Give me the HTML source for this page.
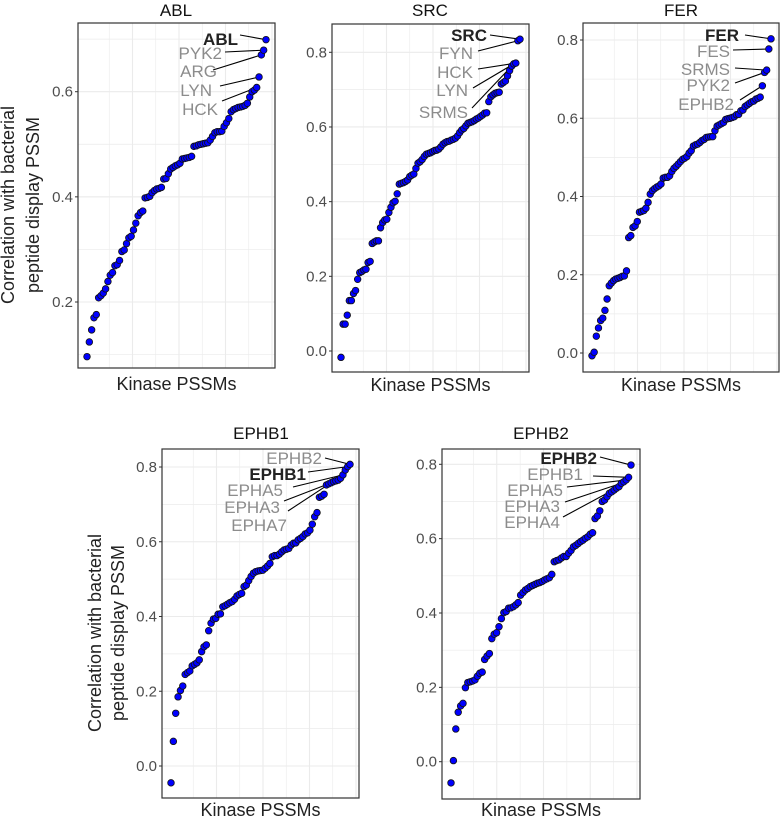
<!DOCTYPE html>
<html><head><meta charset="utf-8"><style>
html,body{margin:0;padding:0;background:#fff;}
svg{display:block;font-family:"Liberation Sans",sans-serif;}
</style></head><body>
<svg id="fig" width="781" height="822" viewBox="0 0 781 822"></svg>
<script>
const ablValues=[0.096,0.124,0.147,0.170,0.176,0.208,0.212,0.217,0.225,0.239,0.251,0.256,0.269,0.271,0.279,0.296,0.299,0.311,0.322,0.325,0.337,0.350,0.364,0.370,0.373,0.398,0.399,0.401,0.408,0.412,0.415,0.416,0.418,0.434,0.435,0.444,0.453,0.456,0.459,0.461,0.464,0.472,0.473,0.474,0.475,0.477,0.496,0.497,0.499,0.500,0.501,0.502,0.503,0.508,0.515,0.522,0.524,0.524,0.525,0.534,0.541,0.549,0.562,0.566,0.568,0.570,0.571,0.572,0.574,0.578,0.590,0.600,0.603,0.608,0.628,0.670,0.679,0.699];
const srcValues=[-0.017,0.072,0.072,0.096,0.135,0.135,0.154,0.162,0.192,0.210,0.213,0.217,0.219,0.237,0.240,0.288,0.292,0.295,0.295,0.330,0.344,0.351,0.353,0.371,0.385,0.397,0.401,0.421,0.447,0.449,0.451,0.454,0.458,0.467,0.471,0.474,0.489,0.503,0.507,0.513,0.521,0.527,0.529,0.531,0.534,0.537,0.538,0.541,0.547,0.554,0.558,0.561,0.562,0.565,0.567,0.570,0.576,0.585,0.592,0.596,0.603,0.610,0.612,0.614,0.617,0.621,0.624,0.628,0.632,0.637,0.638,0.668,0.681,0.686,0.690,0.692,0.693,0.715,0.719,0.723,0.737,0.751,0.763,0.769,0.771,0.831,0.835];
const ferValues=[-0.007,0.002,0.043,0.064,0.083,0.089,0.109,0.138,0.172,0.179,0.185,0.189,0.191,0.193,0.196,0.197,0.210,0.295,0.300,0.321,0.325,0.336,0.360,0.362,0.364,0.370,0.385,0.406,0.415,0.420,0.424,0.427,0.432,0.447,0.449,0.449,0.453,0.464,0.472,0.477,0.483,0.489,0.495,0.498,0.502,0.511,0.517,0.529,0.532,0.534,0.538,0.543,0.546,0.551,0.552,0.553,0.553,0.568,0.580,0.583,0.586,0.589,0.597,0.599,0.600,0.602,0.604,0.609,0.610,0.619,0.621,0.630,0.634,0.638,0.642,0.644,0.649,0.651,0.654,0.683,0.717,0.723,0.777,0.803];
const ephb1Values=[-0.045,0.066,0.141,0.185,0.202,0.214,0.245,0.250,0.254,0.268,0.272,0.276,0.284,0.306,0.319,0.324,0.362,0.382,0.393,0.395,0.406,0.407,0.426,0.429,0.433,0.437,0.440,0.446,0.455,0.459,0.462,0.480,0.484,0.496,0.507,0.516,0.520,0.522,0.523,0.524,0.529,0.535,0.542,0.560,0.563,0.563,0.567,0.573,0.578,0.580,0.582,0.591,0.596,0.597,0.605,0.609,0.614,0.621,0.624,0.631,0.647,0.667,0.678,0.719,0.722,0.727,0.752,0.755,0.758,0.761,0.763,0.765,0.770,0.779,0.792,0.801,0.807];
const ephb2Values=[-0.057,0.003,0.088,0.133,0.150,0.157,0.199,0.213,0.215,0.217,0.220,0.230,0.238,0.241,0.275,0.284,0.291,0.331,0.343,0.347,0.363,0.385,0.401,0.404,0.413,0.414,0.417,0.422,0.428,0.448,0.455,0.462,0.466,0.471,0.474,0.477,0.480,0.482,0.485,0.489,0.492,0.495,0.504,0.538,0.541,0.543,0.548,0.552,0.552,0.561,0.568,0.578,0.582,0.587,0.592,0.596,0.601,0.605,0.612,0.616,0.654,0.661,0.675,0.700,0.704,0.713,0.722,0.726,0.731,0.736,0.740,0.749,0.753,0.758,0.765,0.798];
const ablTicks=[0.2,0.4,0.6];
const stdTicks=[0.0,0.2,0.4,0.6,0.8];

const NS="http://www.w3.org/2000/svg";
const svg=document.getElementById('fig');
function mk(tag,attrs,parent){const e=document.createElementNS(NS,tag);for(const k in attrs)e.setAttribute(k,attrs[k]);(parent||svg).appendChild(e);return e;}

const panels=[
 {id:'abl',title:'ABL',values:ablValues,ticks:ablTicks,x0:78,x1:275,y0:23,y1:368,px0:87,px1:266,v0:0.2,yv0:302,v1:0.6,yv1:91.7,tx:176,ty:16,xt:390,
  labels:[['ABL',true,238,39,240,35],['PYK2',false,222,53,225,52],['ARG',false,217,71,213,70],['LYN',false,212,90,220,86],['HCK',false,218,109,222,101]],
  targets:[77,76,75,74,73]},
 {id:'src',title:'SRC',values:srcValues,ticks:stdTicks,x0:332,x1:529,y0:24,y1:372,px0:341,px1:520,v0:0,yv0:351,v1:0.8,yv1:52.3,tx:430,ty:16,xt:391,
  labels:[['SRC',true,487,35,490,35],['FYN',false,473,53,478,51],['HCK',false,473,72,478,69],['LYN',false,468,90,473,88],['SRMS',false,468,112,472,108]],
  targets:[86,85,84,83,82]},
 {id:'fer',title:'FER',values:ferValues,ticks:stdTicks,x0:583,x1:779,y0:23,y1:372,px0:592,px1:771,v0:0,yv0:353,v1:0.8,yv1:40,tx:681,ty:16,xt:391,
  labels:[['FER',true,739,35,745,35],['FES',false,730,51,733,50],['SRMS',false,730,69,735,68],['PYK2',false,730,85,735,83],['EPHB2',false,734,104,740,100]],
  targets:[83,82,81,80,79]},
 {id:'ephb1',title:'EPHB1',values:ephb1Values,ticks:stdTicks,x0:162,x1:359,y0:449,y1:798,px0:171,px1:350,v0:0,yv0:766,v1:0.8,yv1:467,tx:261,ty:439,xt:816,
  labels:[['EPHB2',false,322,458,325,458],['EPHB1',true,306,474,308,472],['EPHA5',false,283,490,293,487],['EPHA3',false,280,507,284,501],['EPHA7',false,287,525,288,511]],
  targets:[76,75,73,71,68]},
 {id:'ephb2',title:'EPHB2',values:ephb2Values,ticks:stdTicks,x0:442,x1:640,y0:449,y1:799,px0:451,px1:631,v0:0,yv0:761.7,v1:0.8,yv1:464.3,tx:541,ty:439,xt:816,
  labels:[['EPHB2',true,597,458,600,457],['EPHB1',false,583,474,593,476],['EPHA5',false,563,490,567,487],['EPHA3',false,560,506,565,502],['EPHA4',false,560,522,563,517]],
  targets:[75,74,73,71,69]}
];

panels.forEach(p=>{
  const g=mk('g',{});
  
  
  const N=p.values.length;
  const xs=i=>p.px0+(p.px1-p.px0)*i/(N-1);
  const ys=v=>p.yv0+(v-p.v0)*(p.yv1-p.yv0)/(p.v1-p.v0);
  mk('rect',{x:p.x0,y:p.y0,width:p.x1-p.x0,height:p.y1-p.y0,fill:'#fff'},g);
  const step=(p.px1-p.px0)/3.85;
  for(let k=0;k<8;k++){const gx=p.px0+step*(k+1)/2-1;if(gx<p.x1){const l=mk('line',{x1:gx,x2:gx,y1:p.y0,y2:p.y1,stroke:'#ebebeb','stroke-width':k%2?1.1:0.6},g);}}
  const tStep=p.ticks[1]-p.ticks[0];
  for(let v=p.ticks[0]-tStep*1.5;v<p.ticks[p.ticks.length-1]+tStep;v+=tStep/2){const gy=ys(v);if(gy>p.y0&&gy<p.y1){mk('line',{x1:p.x0,x2:p.x1,y1:gy,y2:gy,stroke:'#ebebeb','stroke-width':0.7},g);}}
  p.ticks.forEach(t=>{
    const gy=ys(t);
    const l=mk('line',{x1:p.x0,x2:p.x1,y1:gy,y2:gy,stroke:'#ebebeb','stroke-width':1.1},g);
    
    mk('line',{x1:p.x0-3,x2:p.x0,y1:gy,y2:gy,stroke:'#333','stroke-width':1},g);
    const tx=mk('text',{x:p.x0-5,y:gy+5,'text-anchor':'end','font-size':15,fill:'#4d4d4d'},g);
    tx.textContent=t.toFixed(1);
    
  });
  p.labels.forEach((lb,j)=>{
    const ti=p.targets[j];
    const l=mk('line',{x1:lb[4],y1:lb[5],x2:xs(ti),y2:ys(p.values[ti]),stroke:'#000','stroke-width':1.1},g);
    
  });
  p.values.forEach((v,i)=>{
    const c=mk('circle',{cx:xs(i),cy:ys(v),r:3.3,fill:'#0000ff',stroke:'#111','stroke-width':0.8},g);
    
    
  });
  p.labels.forEach(lb=>{
    const t=mk('text',{x:lb[2],y:lb[3]+6,'text-anchor':'end','font-size':17,fill:lb[1]?'#222':'#8c8c8c','font-weight':lb[1]?'bold':'normal'},g);
    t.textContent=lb[0];
    
  });
  const b=mk('rect',{x:p.x0,y:p.y0,width:p.x1-p.x0,height:p.y1-p.y0,fill:'none',stroke:'#333','stroke-width':1.2},g);
  
  const tt=mk('text',{x:p.tx,y:p.ty,'text-anchor':'middle','font-size':17,fill:'#111'},g);
  tt.textContent=p.title;
  
  const xt=mk('text',{x:(p.x0+p.x1)/2,y:p.xt,'text-anchor':'middle','font-size':18,fill:'#222'},g);
  xt.textContent='Kinase PSSMs';
  
});

[[205,8,33],[633,95,118]].forEach(a=>{
  const t=mk('text',{transform:`translate(${a[1]+6},${a[0]}) rotate(-90)`,'text-anchor':'middle','font-size':18,fill:'#222'});
  t.textContent='Correlation with bacterial';
  
  const t2=mk('text',{transform:`translate(${a[2]+6},${a[0]}) rotate(-90)`,'text-anchor':'middle','font-size':18,fill:'#222'});
  t2.textContent='peptide display PSSM';
  
});
</script>
</body></html>
